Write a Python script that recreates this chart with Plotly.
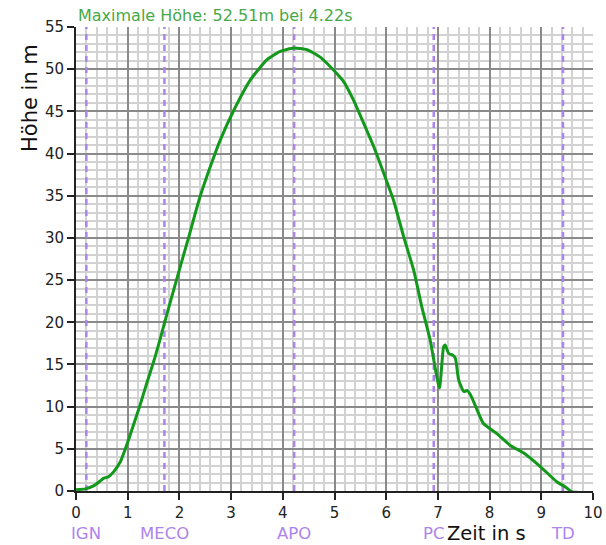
import plotly.graph_objects as go

# ---- data ----
time_s = [0.0, 0.18, 0.34, 0.47, 0.53, 0.63, 0.73, 0.86, 0.99, 1.11, 1.24, 1.37, 1.53,
          1.65, 1.76, 1.98, 2.18, 2.40, 2.63, 2.79, 3.05, 3.37, 3.69, 3.95, 4.21, 4.47,
          4.73, 4.98, 5.18, 5.37, 5.50, 5.76, 5.98, 6.14, 6.34, 6.53, 6.69, 6.85, 7.03,
          7.11, 7.14, 7.21, 7.29, 7.34, 7.40, 7.50, 7.57, 7.63, 7.76, 7.88, 8.14, 8.40,
          8.66, 8.98, 9.30, 9.46, 9.59, 9.76, 9.85]
height_m = [0.15, 0.25, 0.6, 1.2, 1.5, 1.7, 2.3, 3.5, 5.6, 7.8, 10.2, 12.8, 15.9,
            18.5, 21.0, 25.8, 30.1, 34.9, 39.0, 41.6, 45.1, 48.7, 51.1, 52.1, 52.5, 52.3,
            51.4, 49.9, 48.5, 46.3, 44.5, 40.8, 37.2, 34.5, 30.1, 26.2, 21.8, 17.9, 12.2,
            17.1, 17.3, 16.3, 16.1, 15.7, 13.2, 11.8, 11.9, 11.4, 9.6, 8.0, 6.8, 5.4,
            4.5, 2.9, 1.1, 0.5, -0.1, -0.2, -0.5]
event_times = [0.2, 1.71, 4.22, 6.92, 9.42]
event_labels = ["IGN", "MECO", "APO", "PC", "TD"]
max_height = 52.51
max_time = 4.22
x_ticks = list(range(0, 11))
y_ticks = list(range(0, 56, 5))

# ---- styles ----
LINE_GREEN = "#12981a"
TITLE_GREEN = "#47a847"
PURPLE = "#ad84ec"
FONT = "DejaVu Sans"

fig = go.Figure()

for t in event_times:
    fig.add_trace(go.Scatter(x=[t, t], y=[0, 55], mode="lines",
                             line=dict(color=PURPLE, width=2.5, dash="6px,5px"),
                             hoverinfo="skip", showlegend=False))

fig.add_trace(go.Scatter(x=time_s, y=height_m, mode="lines",
                         line=dict(color=LINE_GREEN, width=3, shape="spline", smoothing=0.5),
                         showlegend=False))

for t, lab in zip(event_times, event_labels):
    fig.add_annotation(x=t, xref="x", y=0, yref="paper", yanchor="middle",
                       yshift=-42, text=lab, showarrow=False,
                       font=dict(family=FONT, size=16.5, color=PURPLE))

fig.add_annotation(x=0, xref="paper", xanchor="left", y=1, yref="paper",
                   yanchor="bottom", yshift=0,
                   text=f"Maximale Höhe: {max_height:.2f}m bei {max_time:.2f}s",
                   showarrow=False, font=dict(family=FONT, size=16, color=TITLE_GREEN))

fig.add_annotation(x=(486 - 76) / 517, xref="paper", y=0, yref="paper", showarrow=False,
                   xanchor="center", yanchor="middle", yshift=-42,
                   text="Zeit in s", font=dict(family=FONT, size=19.5, color="#111"))

fig.add_annotation(x=0, xref="paper", xshift=-46, y=(491 - 98) / 464, yref="paper",
                   text="Höhe in m", textangle=-90, showarrow=False,
                   xanchor="center", yanchor="middle",
                   font=dict(family=FONT, size=21, color="#111"))

axis_common = dict(
    showline=True, linecolor="#222", linewidth=2, mirror=False,
    ticks="outside", ticklen=7, tickwidth=2, tickcolor="#222",
    showgrid=True, gridcolor="#8a8a8a", gridwidth=1.6,
    zeroline=False, automargin=False,
    tickfont=dict(family=FONT, size=15, color="#222"),
)

fig.update_xaxes(range=[0, 10], tickvals=x_ticks,
                 minor=dict(dtick=0.2, showgrid=True, gridcolor="#d2d2d2", gridwidth=1.6, ticks=""),
                 **axis_common)
fig.update_yaxes(range=[0, 55], tickvals=y_ticks,
                 minor=dict(dtick=1, showgrid=True, gridcolor="#d2d2d2", gridwidth=1.6, ticks=""),
                 **axis_common)

fig.update_layout(
    width=606, height=545,
    margin=dict(l=76, r=13, t=27, b=54, autoexpand=False),
    plot_bgcolor="white", paper_bgcolor="white",
    font=dict(family=FONT),
    showlegend=False,
)

fig.write_html("out.html")
